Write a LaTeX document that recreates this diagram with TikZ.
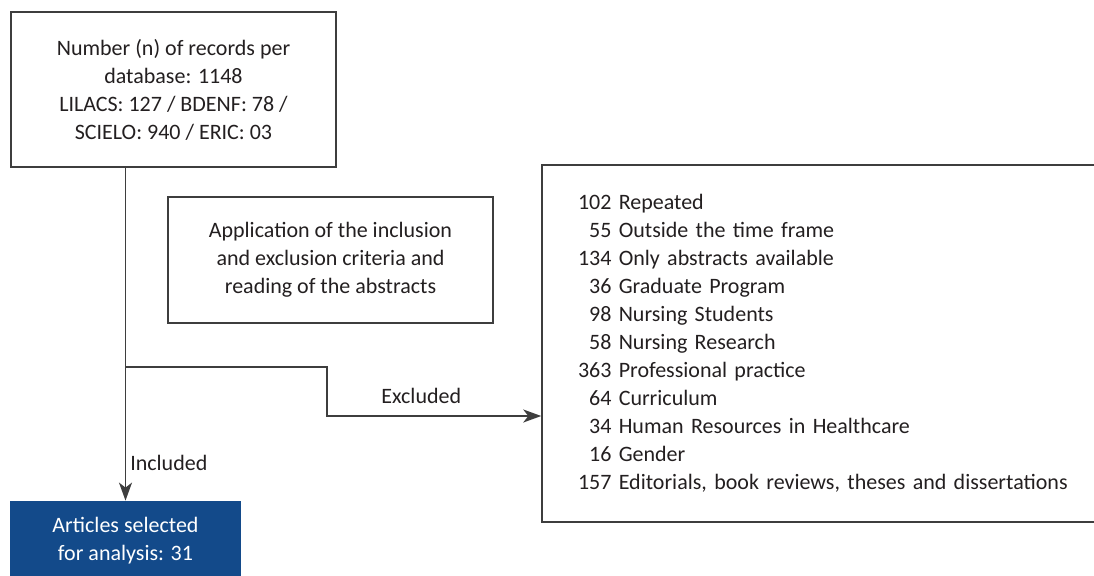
\documentclass[tikz,border=0pt]{standalone}
\usepackage{fontspec}
\setmainfont{Carlito}
\usetikzlibrary{arrows.meta, calc, positioning}
\definecolor{linegray}{RGB}{62,62,62}
\definecolor{inkgray}{RGB}{35,31,32}
\definecolor{selblue}{RGB}{19,74,138}
\newcommand{\boxfont}{\fontsize{11}{14}\selectfont}
\tikzset{
  align=center,
  box/.style={draw=linegray, line width=0.75pt, inner sep=0pt, text=inkgray},
  selbox/.style={fill=selblue, inner sep=0pt, text=white},
  pto/.style={-{Stealth[length=9pt,width=6.5pt,inset=2.5pt]}, line width=0.8pt, linegray},
  lbl/.style={text=inkgray, inner sep=2pt}
}

\begin{document}
\begin{tikzpicture}[x=0.5pt, y=-0.5pt, font=\boxfont]
    \useasboundingbox (0,0) rectangle (1094,575);

    \node[box, minimum width=162.5pt, minimum height=77.5pt] (records) at (173.5,89.5)
        {Number (n) of records per\\ database: 1148\\ LILACS: 127 / BDENF: 78 /\\ SCIELO: 940 / ERIC: 03};
    \node[box, minimum width=162.5pt, minimum height=63pt] (criteria) at (330.5,260)
        {Application of the inclusion\\ and exclusion criteria and\\ reading of the abstracts};
    \node[box, minimum width=302pt, minimum height=178.5pt, text width=266pt, inner xsep=18pt, align=left] (excluded) at (844,343.5)
        {102 Repeated\\
         \phantom{0}55 Outside the time frame\\
         134 Only abstracts available\\
         \phantom{0}36 Graduate Program\\
         \phantom{0}98 Nursing Students\\
         \phantom{0}58 Nursing Research\\
         363 Professional practice\\
         \phantom{0}64 Curriculum\\
         \phantom{0}34 Human Resources in Healthcare\\
         \phantom{0}16 Gender\\
         157 Editorials, book reviews, theses and dissertations};
    \node[selbox, minimum width=115.5pt, minimum height=39.5pt] (selected) at (125.5,540.5)
        {Articles selected\\ for analysis: 31};

    \coordinate (split) at (selected.north |- 0,367);
    \coordinate (bend) at (327,416);

    \draw[pto] (records.south -| selected.north) -- (selected.north)
        node[lbl, pos=0.886, right] {Included};
    \draw[pto] (split) -| (bend) -- (bend -| excluded.west)
        node[lbl, pos=0.44, above=4pt] {Excluded};
  \end{tikzpicture}
\end{document}
